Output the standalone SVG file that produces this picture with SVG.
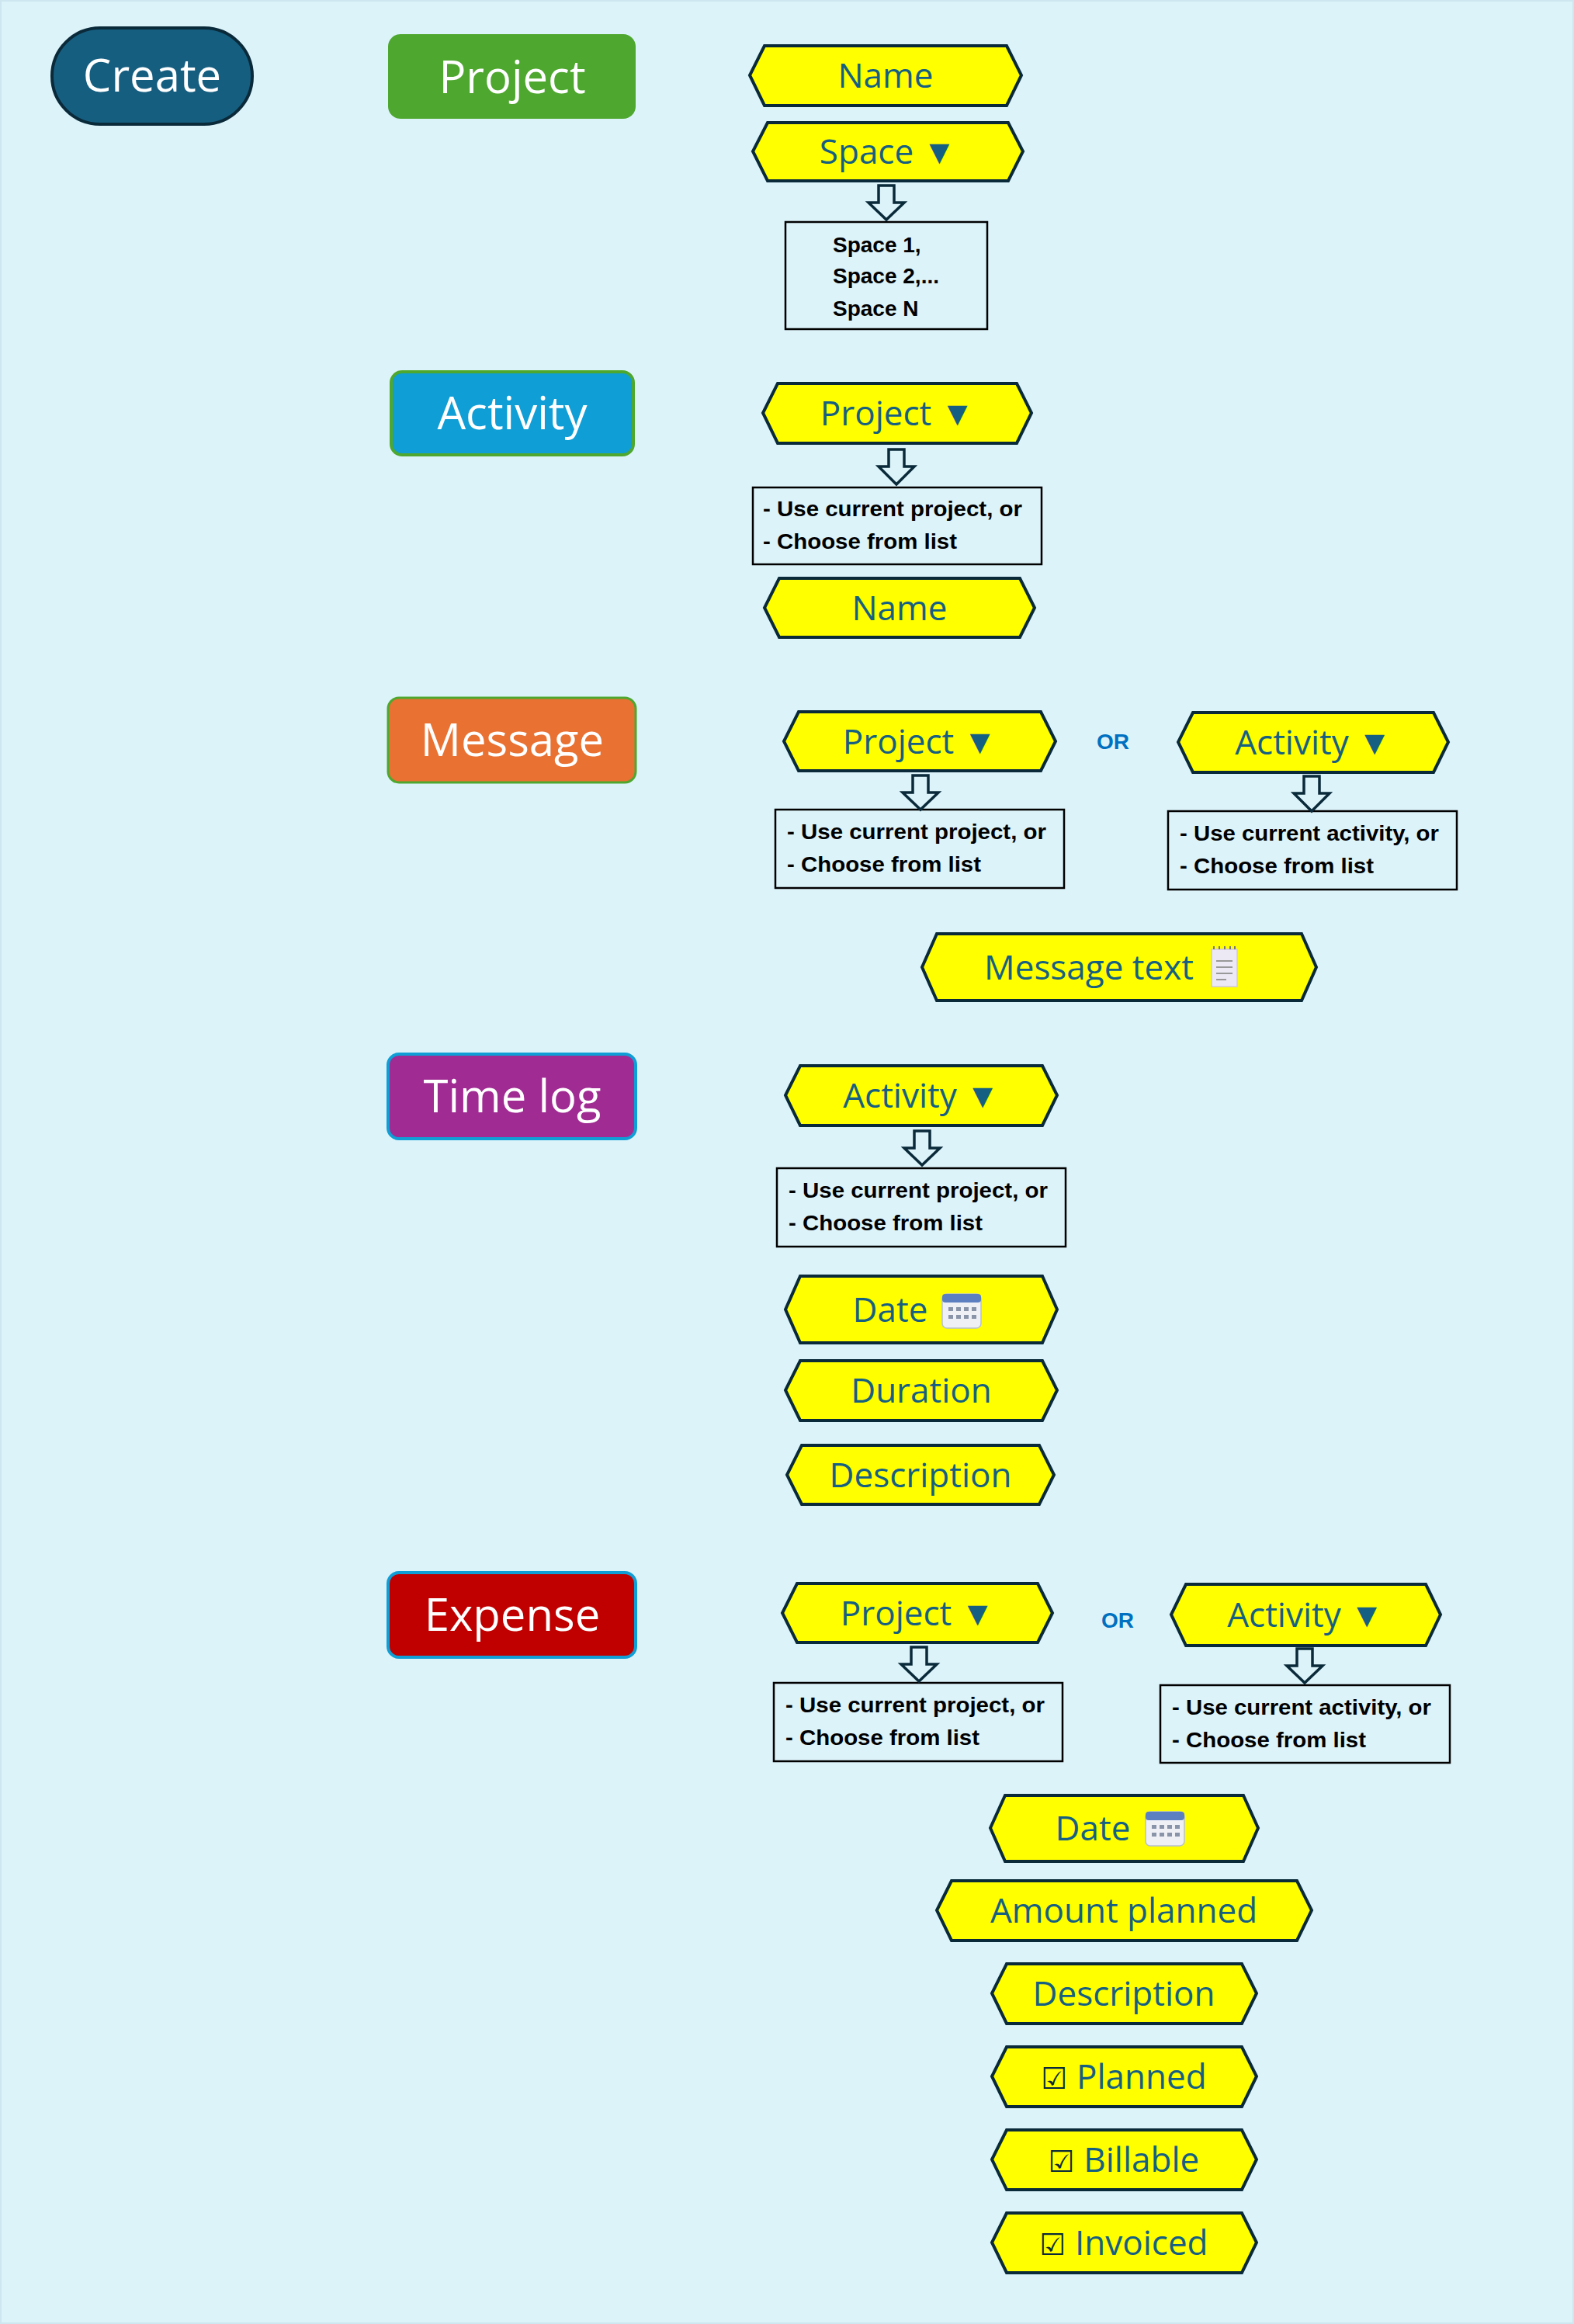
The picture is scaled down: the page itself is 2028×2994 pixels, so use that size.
<svg xmlns="http://www.w3.org/2000/svg" width="2028" height="2994" viewBox="0 0 2028 2994">
<style>
.hex{fill:#ffff00;stroke:#0a2a3a;stroke-width:4}
.ht{font-family:"Open Sans","Noto Sans",sans-serif;font-size:44px;fill:#156082;text-anchor:middle}
.box{fill:none;stroke:#000;stroke-width:2.5}
.bt{font-family:"Liberation Sans",Arial,sans-serif;font-weight:bold;font-size:28px;fill:#000}
.arr{fill:none;stroke:#0a2a3a;stroke-width:3.5;stroke-linejoin:miter}
.cat{font-family:"Open Sans","Noto Sans",sans-serif;font-size:58px;fill:#fff;text-anchor:middle}
.or{font-family:"Liberation Sans",Arial,sans-serif;font-weight:bold;font-size:28px;fill:#0070c0;text-anchor:middle}
.ck{font-family:"DejaVu Sans",sans-serif}
</style>
<rect x="1" y="1" width="2026" height="2992" fill="#dcf3fa" stroke="#cde6ef" stroke-width="2"/>

<g id="create"><rect x="67" y="36" width="258" height="124" rx="62" fill="#165e80" stroke="#0a2a3a" stroke-width="4"/><text class="cat" x="196" y="118" font-size="54">Create</text></g>

<g id="project"><rect x="500" y="44" width="319" height="109" rx="16" fill="#4ea72e"/><text class="cat" x="660" y="120">Project</text></g>
<g id="p-name"><path class="hex" d="M985,59H1297L1316,97L1297,136H985L966,97Z"/><text class="ht" x="1141" y="113">Name</text></g>
<g id="p-space"><path class="hex" d="M989,158H1299L1318,195L1299,233H989L970,195Z"/><text class="ht" x="1144" y="211">Space ▼</text></g>
<g id="p-list"><rect class="box" x="1012" y="286" width="260" height="138"/><text class="bt" x="1073" y="325">Space 1,</text><text class="bt" x="1073" y="365">Space 2,...</text><text class="bt" x="1073" y="407">Space N</text></g>

<g id="activity"><rect x="504" y="479" width="312" height="107" rx="14" fill="#0f9ed5" stroke="#4ea72e" stroke-width="4"/><text class="cat" x="660" y="553">Activity</text></g>
<g id="a-project"><path class="hex" d="M1002,494H1310L1329,532L1310,571H1002L983,532Z"/><text class="ht" x="1156" y="548">Project ▼</text></g>
<g id="a-list"><rect class="box" x="970" y="628" width="372" height="99"/><text class="bt" x="983" y="665" textLength="334" lengthAdjust="spacingAndGlyphs">- Use current project, or</text><text class="bt" x="983" y="707" textLength="250" lengthAdjust="spacingAndGlyphs">- Choose from list</text></g>
<g id="a-name"><path class="hex" d="M1004,745H1314L1333,783L1314,821H1004L985,783Z"/><text class="ht" x="1159" y="799">Name</text></g>

<g id="message"><rect x="500" y="899" width="319" height="109" rx="14" fill="#e97132" stroke="#4ea72e" stroke-width="3"/><text class="cat" x="660" y="974">Message</text></g>
<g id="m-project"><path class="hex" d="M1029,917H1341L1360,955L1341,993H1029L1010,955Z"/><text class="ht" x="1185" y="971">Project ▼</text></g>
<text class="or" x="1434" y="965">OR</text>
<g id="m-activity"><path class="hex" d="M1537,918H1847L1866,956L1847,995H1537L1518,956Z"/><text class="ht" x="1692" y="972">Activity ▼</text></g>
<g id="m-plist"><rect class="box" x="999" y="1043" width="372" height="101"/><text class="bt" x="1014" y="1081" textLength="334" lengthAdjust="spacingAndGlyphs">- Use current project, or</text><text class="bt" x="1014" y="1123" textLength="250" lengthAdjust="spacingAndGlyphs">- Choose from list</text></g>
<g id="m-alist"><rect class="box" x="1505" y="1045" width="372" height="101"/><text class="bt" x="1520" y="1083" textLength="334" lengthAdjust="spacingAndGlyphs">- Use current activity, or</text><text class="bt" x="1520" y="1125" textLength="250" lengthAdjust="spacingAndGlyphs">- Choose from list</text></g>
<g id="m-text"><path class="hex" d="M1207,1203H1677L1696,1246L1677,1289H1207L1188,1246Z"/><text class="ht" x="1403" y="1262">Message text</text>
<rect x="1561" y="1223" width="33" height="48" fill="#ece8f4" stroke="#cfc8de" stroke-width="1.5"/><path d="M1567,1238H1588M1567,1246H1588M1567,1254H1588M1567,1262H1580" stroke="#999" stroke-width="2"/><path d="M1564,1223v-4M1571,1223v-4M1578,1223v-4M1585,1223v-4M1591,1223v-4" stroke="#777" stroke-width="2"/></g>

<g id="timelog"><rect x="500" y="1358" width="319" height="109" rx="14" fill="#a02b93" stroke="#0f9ed5" stroke-width="4"/><text class="cat" x="660" y="1433">Time log</text></g>
<g id="t-activity"><path class="hex" d="M1031,1373H1343L1362,1411L1343,1450H1031L1012,1411Z"/><text class="ht" x="1187" y="1427">Activity ▼</text></g>
<g id="t-list"><rect class="box" x="1001" y="1505" width="372" height="101"/><text class="bt" x="1016" y="1543" textLength="334" lengthAdjust="spacingAndGlyphs">- Use current project, or</text><text class="bt" x="1016" y="1585" textLength="250" lengthAdjust="spacingAndGlyphs">- Choose from list</text></g>
<g id="t-date"><path class="hex" d="M1031,1644H1343L1362,1687L1343,1730H1031L1012,1687Z"/><text class="ht" x="1147" y="1703">Date</text>
<rect x="1214" y="1667" width="50" height="44" rx="6" fill="#eef0f6" stroke="#b8c0d0" stroke-width="1.5"/><rect x="1214" y="1667" width="50" height="11" rx="4" fill="#5b7fc0"/><g fill="#8a94a8"><rect x="1222" y="1684" width="6" height="5"/><rect x="1232" y="1684" width="6" height="5"/><rect x="1242" y="1684" width="6" height="5"/><rect x="1252" y="1684" width="6" height="5"/><rect x="1222" y="1694" width="6" height="5"/><rect x="1232" y="1694" width="6" height="5"/><rect x="1242" y="1694" width="6" height="5"/><rect x="1252" y="1694" width="6" height="5"/></g></g>
<g id="t-duration"><path class="hex" d="M1031,1753H1343L1362,1791L1343,1830H1031L1012,1791Z"/><text class="ht" x="1187" y="1807">Duration</text></g>
<g id="t-desc"><path class="hex" d="M1033,1862H1339L1358,1900L1339,1938H1033L1014,1900Z"/><text class="ht" x="1186" y="1916">Description</text></g>

<g id="expense"><rect x="500" y="2026" width="319" height="109" rx="14" fill="#c00000" stroke="#0f9ed5" stroke-width="4"/><text class="cat" x="660" y="2101">Expense</text></g>
<g id="e-project"><path class="hex" d="M1027,2040H1337L1356,2078L1337,2116H1027L1008,2078Z"/><text class="ht" x="1182" y="2094">Project ▼</text></g>
<text class="or" x="1440" y="2097">OR</text>
<g id="e-activity"><path class="hex" d="M1528,2041H1837L1856,2080L1837,2120H1528L1509,2080Z"/><text class="ht" x="1682" y="2096">Activity ▼</text></g>
<g id="e-plist"><rect class="box" x="997" y="2168" width="372" height="101"/><text class="bt" x="1012" y="2206" textLength="334" lengthAdjust="spacingAndGlyphs">- Use current project, or</text><text class="bt" x="1012" y="2248" textLength="250" lengthAdjust="spacingAndGlyphs">- Choose from list</text></g>
<g id="e-alist"><rect class="box" x="1495" y="2171" width="373" height="100"/><text class="bt" x="1510" y="2209" textLength="334" lengthAdjust="spacingAndGlyphs">- Use current activity, or</text><text class="bt" x="1510" y="2251" textLength="250" lengthAdjust="spacingAndGlyphs">- Choose from list</text></g>
<g id="e-date"><path class="hex" d="M1295,2313H1602L1621,2355L1602,2398H1295L1276,2355Z"/><text class="ht" x="1408" y="2371">Date</text>
<rect x="1476" y="2334" width="50" height="44" rx="6" fill="#eef0f6" stroke="#b8c0d0" stroke-width="1.5"/><rect x="1476" y="2334" width="50" height="11" rx="4" fill="#5b7fc0"/><g fill="#8a94a8"><rect x="1484" y="2351" width="6" height="5"/><rect x="1494" y="2351" width="6" height="5"/><rect x="1504" y="2351" width="6" height="5"/><rect x="1514" y="2351" width="6" height="5"/><rect x="1484" y="2361" width="6" height="5"/><rect x="1494" y="2361" width="6" height="5"/><rect x="1504" y="2361" width="6" height="5"/><rect x="1514" y="2361" width="6" height="5"/></g></g>
<g id="e-amount"><path class="hex" d="M1226,2423H1671L1690,2461L1671,2500H1226L1207,2461Z"/><text class="ht" x="1448" y="2477">Amount planned</text></g>
<g id="e-desc"><path class="hex" d="M1297,2530H1600L1619,2568L1600,2607H1297L1278,2568Z"/><text class="ht" x="1448" y="2584">Description</text></g>
<g id="e-planned"><path class="hex" d="M1297,2637H1600L1619,2675L1600,2714H1297L1278,2675Z"/><text class="ht" x="1448" y="2691"><tspan class="ck" font-size="38" fill="#0a2a3a">☑</tspan> Planned</text></g>
<g id="e-billable"><path class="hex" d="M1297,2744H1600L1619,2782L1600,2821H1297L1278,2782Z"/><text class="ht" x="1448" y="2798"><tspan class="ck" font-size="38" fill="#0a2a3a">☑</tspan> Billable</text></g>
<g id="e-invoiced"><path class="hex" d="M1297,2851H1600L1619,2889L1600,2928H1297L1278,2889Z"/><text class="ht" x="1448" y="2905"><tspan class="ck" font-size="38" fill="#0a2a3a">☑</tspan> Invoiced</text></g>

<g id="connectors">
<path class="arr" d="M1132,239H1152V261H1165L1142,283L1119,261H1132Z"/>
<path class="arr" d="M1145,579H1165V601H1178L1155,624L1132,601H1145Z"/>
<path class="arr" d="M1176,999H1196V1021H1209L1186,1043L1163,1021H1176Z"/>
<path class="arr" d="M1680,1000H1700V1022H1713L1690,1045L1667,1022H1680Z"/>
<path class="arr" d="M1178,1457H1198V1479H1211L1188,1501L1165,1479H1178Z"/>
<path class="arr" d="M1174,2122H1194V2144H1207L1184,2166L1161,2144H1174Z"/>
<path class="arr" d="M1671,2124H1691V2146H1704L1681,2168L1658,2146H1671Z"/>
</g>
</svg>
